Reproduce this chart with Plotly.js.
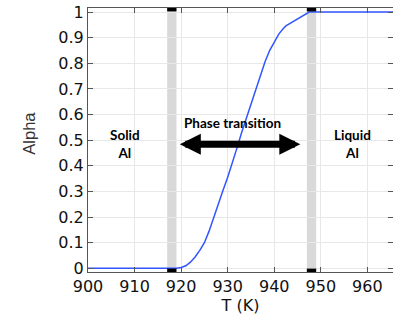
<!DOCTYPE html>
<html><head><meta charset="utf-8">
<script src="https://cdn.plot.ly/plotly-3.0.1.min.js"></script>
<style>html,body{margin:0;padding:0;background:#fff}#c{width:393px;height:318px}</style>
</head><body><div id="c"></div>
<script>
const temperature = [900, 919, 920, 921, 922, 923, 924, 925, 926, 927, 928, 929, 930, 931, 932, 933, 934, 935, 936, 937, 938, 939, 940, 941, 942, 942.5, 947.5, 966];
const alpha =       [0,   0,   0.003, 0.01, 0.024, 0.044, 0.07, 0.1, 0.145, 0.2, 0.255, 0.305, 0.355, 0.41, 0.47, 0.53, 0.585, 0.64, 0.7, 0.755, 0.805, 0.85, 0.885, 0.915, 0.937, 0.946, 1, 1];
const bandStart = [917, 947];
const bandEnd = [919, 949];
const xTicks = [900, 910, 920, 930, 940, 950, 960];
const yTicks = [0, 0.1, 0.2, 0.3, 0.4, 0.5, 0.6, 0.7, 0.8, 0.9, 1];
const labels = [
  {text: "<b>Solid<br>Al</b>", x: 908, y: 0.484},
  {text: "<b>Phase transition</b>", x: 931, y: 0.566},
  {text: "<b>Liquid<br>Al</b>", x: 956.7, y: 0.484}
];
const arrowSpan = [919.4, 945.6];
const arrowY = 0.484;

const shapes = [];
for (let i = 0; i < bandStart.length; i++) {
  shapes.push({type: 'rect', xref: 'x', yref: 'paper', x0: bandStart[i], x1: bandEnd[i], y0: 0, y1: 1,
    fillcolor: '#d9d9d9', line: {width: 0}, layer: 'below'});
  shapes.push({type: 'rect', xref: 'x', yref: 'paper', x0: bandStart[i], x1: bandEnd[i], y0: 0, y1: 0.013,
    fillcolor: '#000', line: {width: 0}, layer: 'above'});
  shapes.push({type: 'rect', xref: 'x', yref: 'paper', x0: bandStart[i], x1: bandEnd[i], y0: 0.987, y1: 1,
    fillcolor: '#000', line: {width: 0}, layer: 'above'});
}

const annotations = labels.map(l => ({
  text: l.text, x: l.x, y: l.y, xref: 'x', yref: 'y', showarrow: false,
  font: {family: 'Lato, "Liberation Sans", sans-serif', size: 13.5, color: '#000'}
}));
annotations.push({
  x: arrowSpan[1], y: arrowY, ax: arrowSpan[0], ay: arrowY,
  xref: 'x', yref: 'y', axref: 'x', ayref: 'y', text: '',
  showarrow: true, arrowhead: 2, startarrowhead: 2, arrowside: 'end+start',
  arrowwidth: 7, arrowsize: 0.6, startarrowsize: 0.6, arrowcolor: '#000'
});
annotations.push({
  text: 'Alpha', xref: 'paper', yref: 'paper', x: -0.23, y: 0.527,
  showarrow: false, textangle: -90,
  font: {family: '"Liberation Sans", Arial, sans-serif', size: 16.5, color: '#333'}
});

const axisCommon = {
  showline: true, linecolor: '#555', linewidth: 1, mirror: 'ticks',
  ticks: 'inside', ticklen: 5, tickcolor: '#555',
  showgrid: true, gridcolor: '#e8e8e8', gridwidth: 1, zeroline: false,
  tickfont: {family: '"DejaVu Sans", sans-serif', size: 16, color: '#111'}
};

Plotly.newPlot('c', [{
  x: temperature, y: alpha, type: 'scatter', mode: 'lines',
  line: {color: '#3355ff', width: 1.5}, hoverinfo: 'skip'
}], {
  width: 393, height: 318,
  margin: {l: 88, r: 0, t: 8, b: 46},
  paper_bgcolor: '#fff', plot_bgcolor: '#fff',
  showlegend: false,
  xaxis: Object.assign({}, axisCommon, {
    range: [900, 965.5], tickvals: xTicks, ticktext: xTicks.map(String),
    title: {text: 'T (K)', font: {family: '"DejaVu Sans", sans-serif', size: 16, color: '#111'}, standoff: 2}
  }),
  yaxis: Object.assign({}, axisCommon, {
    range: [-0.0145, 1.016], tickvals: yTicks, ticktext: yTicks.map(String)
  }),
  shapes: shapes,
  annotations: annotations
}, {staticPlot: true});
</script></body></html>
